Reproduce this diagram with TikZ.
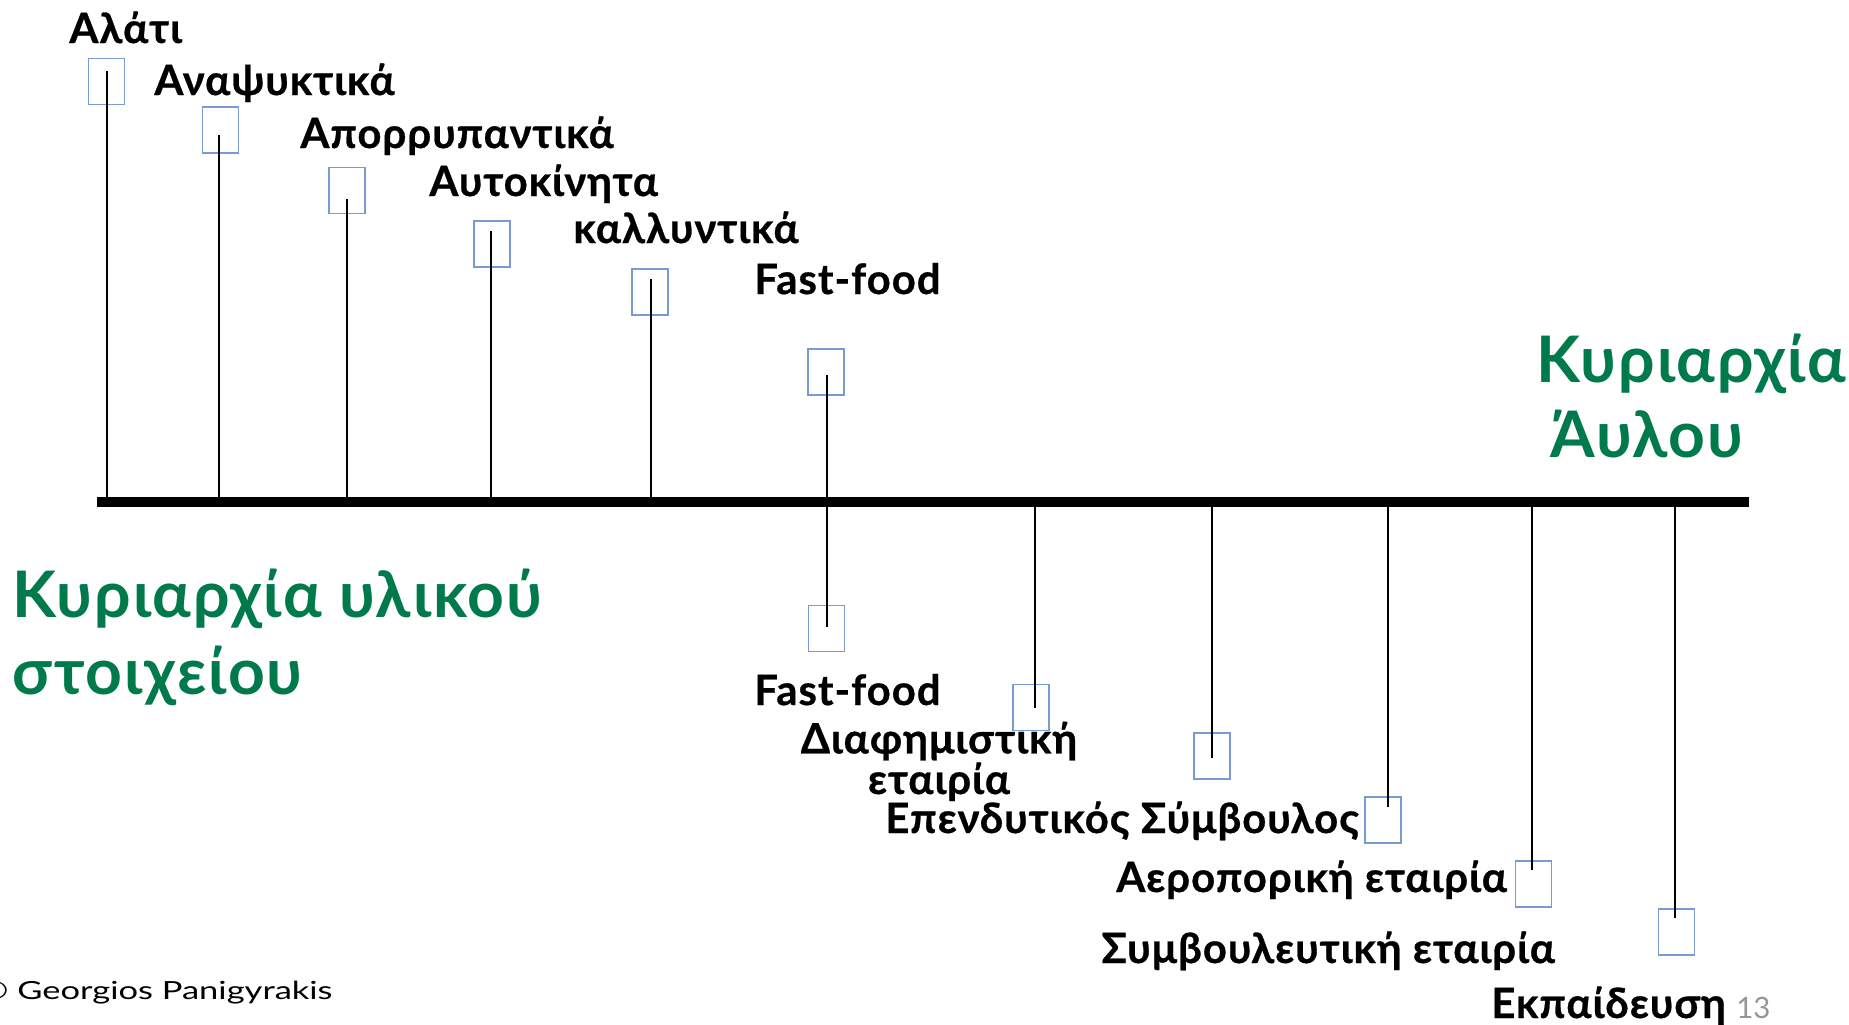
\documentclass[tikz,border=0pt]{standalone}
\usepackage{fontspec}
\setmainfont{Lato}
\newfontfamily\widefont[FakeStretch=1.38]{Lato}
\definecolor{boxblue}{RGB}{120,155,210}
\definecolor{leafgreen}{RGB}{0,122,74}
\definecolor{pagegray}{RGB}{150,150,150}
\begin{document}
\begin{tikzpicture}[x=0.5pt,y=-0.5pt,
  lbl/.style={font=\bfseries\fontsize{20.9}{17.5}\selectfont\addfontfeatures{LetterSpace=2.5,FakeBold=0.7}, inner sep=0, anchor=base west},
  bx/.style={draw=boxblue, line width=0.8pt, minimum width=18pt, minimum height=23pt, inner sep=0},
  stem/.style={line width=1pt},
  axisline/.style={line width=5pt},
  big/.style={font=\bfseries\fontsize{32.1}{38.5}\selectfont\addfontfeatures{LetterSpace=3}, text=leafgreen, inner sep=0, anchor=base west, align=left}]
\useasboundingbox (0,0) rectangle (1849,1024);

% timeline axis
\coordinate (axL) at (97,502);
\coordinate (axR) at (1749,502);
\draw[axisline] (axL) -- (axR);

% boxes
\node[bx] (b1) at (106.5,81.5) {};
\node[bx] (b2) at (220.5,130) {};
\node[bx] (b3) at (347,190.5) {};
\node[bx] (b4) at (492,244) {};
\node[bx] (b5) at (650,292) {};
\node[bx] (b6) at (826,372) {};
\node[bx] (b7) at (826.5,628.5) {};
\node[bx] (b8) at (1031,707.5) {};
\node[bx] (b9) at (1212,756) {};
\node[bx] (b10) at (1383,820) {};
\node[bx] (b11) at (1533.5,884) {};
\node[bx] (b12) at (1676.5,932) {};

% stem ends inside the boxes
\coordinate (s1) at (107,71);
\coordinate (s2) at (219,135);
\coordinate (s3) at (347,199);
\coordinate (s4) at (491,231);
\coordinate (s5) at (651,279);
\coordinate (s6) at (827,375);
\coordinate (s7) at (827,627);
\coordinate (s8) at (1035,708);
\coordinate (s9) at (1212,758);
\coordinate (s10) at (1388,807);
\coordinate (s11) at (1532,870);
\coordinate (s12) at (1675,918);

\foreach \i in {1,...,5,8,9,10,11,12} \draw[stem] (s\i) -- (s\i |- axL);
\draw[stem] (s6) -- (s7);

% labels
\node[lbl] (l1) at (69,43) {Αλάτι};
\node[lbl] (l2) at (154,95) {Αναψυκτικά};
\node[lbl] (l3) at (300,148) {Απορρυπαντικά};
\node[lbl] (l4) at (429,196) {Αυτοκίνητα};
\node[lbl] (l5) at (573,243) {καλλυντικά};
\node[lbl] (l6) at (754,294) {Fast-food};
\node[lbl] (l7) at (754,705) {Fast-food};
\node[lbl, anchor=base, align=center] (l8) at (939,794) {Διαφημιστική\\εταιρία};
\node[lbl] (l9) at (885,833) {Επενδυτικός Σύμβουλος};
\node[lbl] (l10) at (1116,892) {Αεροπορική εταιρία};
\node[lbl] (l11) at (1101,963) {Συμβουλευτική εταιρία};
\node[lbl] (l12) at (1491,1018) {Εκπαίδευση};

% the two poles
\node[big] (gL) at (12,694) {Κυριαρχία υλικού\\στοιχείου};
\node[big] (gR1) at (1536,382) {Κυριαρχία};
\node[big] (gR2) at (1550,457) {Άυλου};

% footer
\node[inner sep=0, anchor=base east, font=\widefont\fontsize{12.5}{14}\selectfont] (copy) at (333,999) {© Georgios Panigyrakis};
\node[inner sep=0, anchor=base west, text=pagegray, font=\fontsize{14.7}{16}\selectfont] (pg) at (1736,1018) {13};
\end{tikzpicture}
\end{document}
